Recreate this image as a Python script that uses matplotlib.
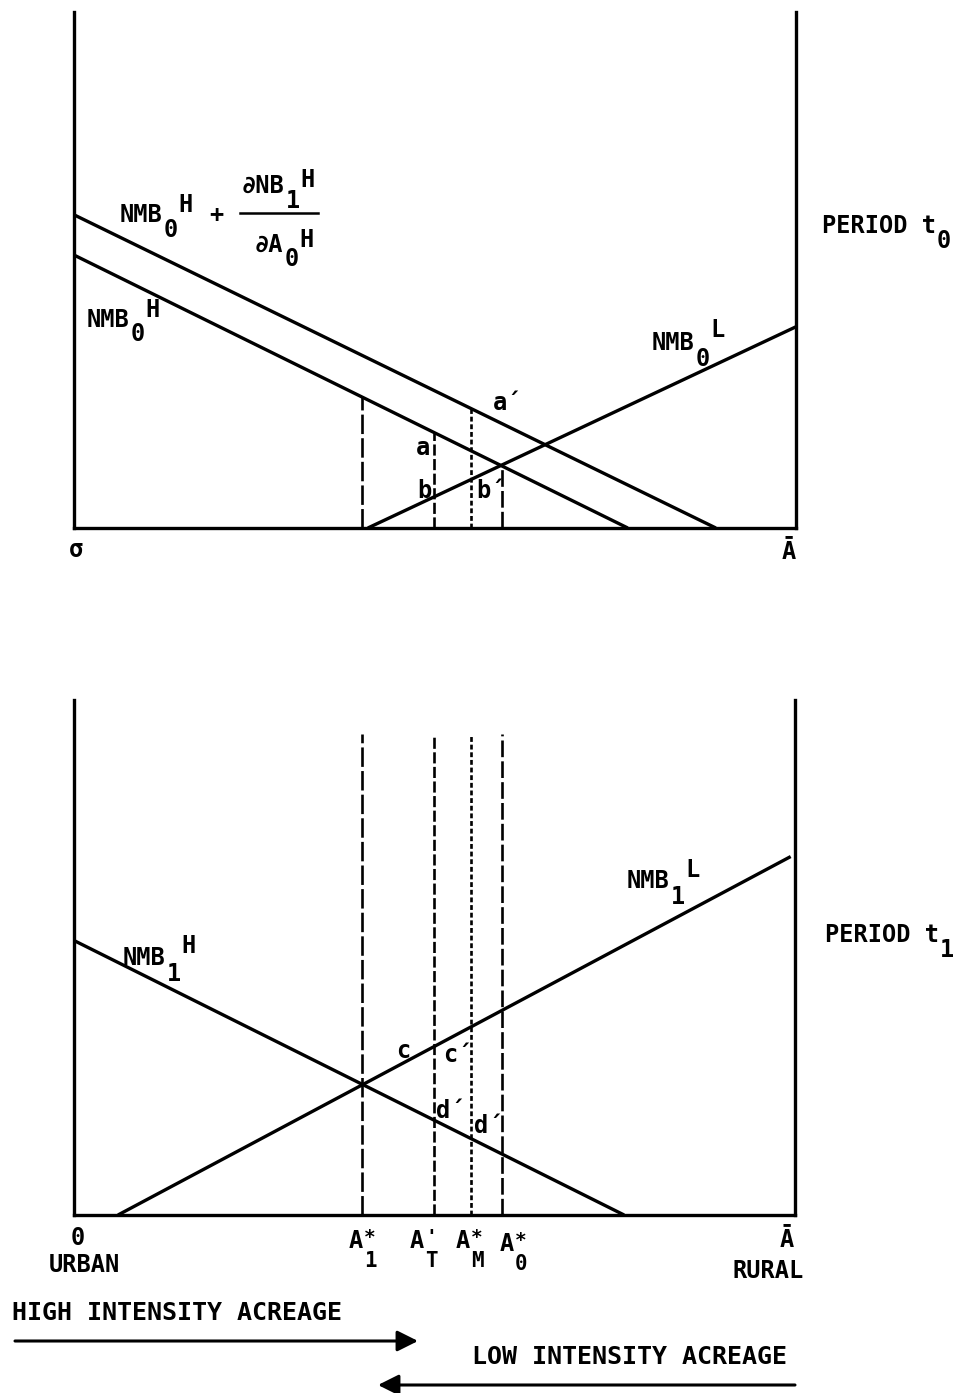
import numpy as np
import matplotlib
matplotlib.use("Agg")
import matplotlib.pyplot as plt

# ---------------------------------------------------------------
# Net marginal benefit schedules (x: acreage from 0 to A-bar = 100)
# ---------------------------------------------------------------
X_MAX = 100.0

# Period t0
nmb0h_x = [0.0, 76.7]
nmb0h_y = [52.9, 0.0]
nmb0h_plus_x = [0.0, 88.9]          # NMB0H + dNB1H/dA0H
nmb0h_plus_y = [60.7, 0.0]
nmb0l_x = [40.7, 100.0]
nmb0l_y = [0.0, 39.0]

# Period t1
nmb1h_x = [0.0, 76.3]
nmb1h_y = [53.3, 0.0]
nmb1l_x = [6.1, 99.4]
nmb1l_y = [0.0, 69.6]

# Acreage allocations
a1_star = 39.9
a_t = 49.9
a_m_star = 55.0
a0_star = 59.3
marker_top_t1 = 93.4

W, H = 961, 1393
MONO = ["DejaVu Sans Mono", "DejaVu Sans"]
plt.rcParams["lines.scale_dashes"] = False

fig = plt.figure(figsize=(W / 100, H / 100), dpi=100)
fig.patch.set_facecolor("white")


def panel(left, top, right, bottom):
    ax = fig.add_axes([left / W, 1 - bottom / H, (right - left) / W, (bottom - top) / H])
    ax.set_xlim(0, X_MAX)
    ax.set_ylim(0, 100)
    ax.set_xticks([])
    ax.set_yticks([])
    ax.spines["top"].set_visible(False)
    for side in ("left", "right", "bottom"):
        ax.spines[side].set_linewidth(2.4)
        ax.spines[side].set_capstyle("projecting")
    ax.patch.set_alpha(0)
    return ax


ax0 = panel(74, 12, 796, 528)
ax1 = panel(74, 700, 795, 1215)

CURVE = dict(color="black", lw=2.4, solid_capstyle="butt", clip_on=False)
STYLE_A1 = (0, (14, 3))
STYLE_AT = (0, (8, 2.5))
STYLE_AM = (0, (3.5, 2))
STYLE_A0 = (0, (12, 3))
VLINE = dict(color="black", lw=1.9, clip_on=False)

# ---- period t0 ----
ax0.plot(nmb0h_plus_x, nmb0h_plus_y, **CURVE)
ax0.plot(nmb0h_x, nmb0h_y, **CURVE)
ax0.plot(nmb0l_x, nmb0l_y, **CURVE)

for xv, style, curve in [
    (a1_star, STYLE_A1, (nmb0h_x, nmb0h_y)),
    (a_t, STYLE_AT, (nmb0h_x, nmb0h_y)),
    (a_m_star, STYLE_AM, (nmb0h_plus_x, nmb0h_plus_y)),
    (a0_star, STYLE_A0, (nmb0h_x, nmb0h_y)),
]:
    top = np.interp(xv, curve[0], curve[1])
    ax0.plot([xv, xv], [0, top], ls=style, **VLINE)

# ---- period t1 ----
ax1.plot(nmb1h_x, nmb1h_y, **CURVE)
ax1.plot(nmb1l_x, nmb1l_y, **CURVE)
for xv, style in [(a1_star, STYLE_A1), (a_t, STYLE_AT),
                  (a_m_star, STYLE_AM), (a0_star, STYLE_A0)]:
    ax1.plot([xv, xv], [0, marker_top_t1], ls=style, **VLINE)


# ---------------------------------------------------------------
# Text helpers (positions in image pixels, y downward)
# ---------------------------------------------------------------
def put(x, y, s, size=17, ha="left"):
    fig.text(x / W, 1 - y / H, s, fontsize=size, family=MONO,
             fontweight="bold", ha=ha, va="baseline", color="black")


def char_w(size):
    return 0.602 * size * 100 / 72


def label(x, y, base, sub="", sup="", size=17, dsub=14, dsup=10,
          stack=False, gap=1, sub_size=None, sup_size=None):
    put(x, y, base, size)
    xs = x + len(base) * char_w(size) + gap
    sub_size = sub_size or size
    sup_size = sup_size or size
    if sub:
        put(xs, y + dsub, sub, sub_size)
    if sup:
        xp = xs if stack else xs + len(sub) * char_w(sub_size) + gap
        put(xp, y - dsup, sup, sup_size)


# Period t0 labels
label(120, 222, "NMB", "0", "H", dsub=15, dsup=10)
put(209, 222, "+")
label(242, 193, "\u2202NB", "1", "H", dsub=15, dsup=6)
fig.add_artist(plt.Line2D([240 / W, 318 / W], [1 - 213 / H, 1 - 213 / H],
                          color="black", lw=1.8))
label(255, 252, "\u2202A", "0", "H", dsub=14, dsup=5)
label(87, 327, "NMB", "0", "H", dsub=14, dsup=10)
label(652, 350, "NMB", "0", "L", dsub=16, dsup=13)
label(822, 233, "PERIOD t", "0", dsub=15)

put(493, 410, "a\u00b4")
put(416, 455, "a")
put(417, 498, "b")
put(476, 498, "b\u00b4")

put(76, 557, "\u03c3", ha="center")
put(789, 559, "\u0100", ha="center")

# Period t1 labels
label(123, 965, "NMB", "1", "H", dsub=16, dsup=12)
label(627, 888, "NMB", "1", "L", dsub=16, dsup=11)
label(825, 942, "PERIOD t", "1", dsub=15)

put(396, 1058, "c")
put(443, 1062, "c\u00b4")
put(436, 1118, "d\u00b4")
put(474, 1133, "d\u00b4")

put(78, 1245, "0", ha="center")
put(84, 1272, "URBAN", ha="center")
put(787, 1247, "\u0100", ha="center")
put(768, 1278, "RURAL", ha="center")

STACK = dict(dsub=19, dsup=5, stack=True, sub_size=15, sup_size=14)
label(349, 1248, "A", "1", "*", **STACK)
label(410, 1248, "A", "T", "'", **STACK)
label(456, 1248, "A", "M", "*", **STACK)
label(500, 1251, "A", "0", "*", **STACK)

put(12, 1320, "HIGH INTENSITY ACREAGE", size=18)
put(472, 1364, "LOW INTENSITY ACREAGE", size=18)

ARROW = dict(arrowstyle="-|>,head_length=0.7,head_width=0.35", lw=2.2,
             color="black", shrinkA=0, shrinkB=0, mutation_scale=18)
ax1.annotate("", xy=(418, H - 1341), xycoords="figure pixels",
             xytext=(15, H - 1341), textcoords="figure pixels",
             arrowprops=ARROW, annotation_clip=False)
ax1.annotate("", xy=(378, H - 1385), xycoords="figure pixels",
             xytext=(795, H - 1385), textcoords="figure pixels",
             arrowprops=ARROW, annotation_clip=False)

fig.savefig("out.png", dpi=100, facecolor="white")
